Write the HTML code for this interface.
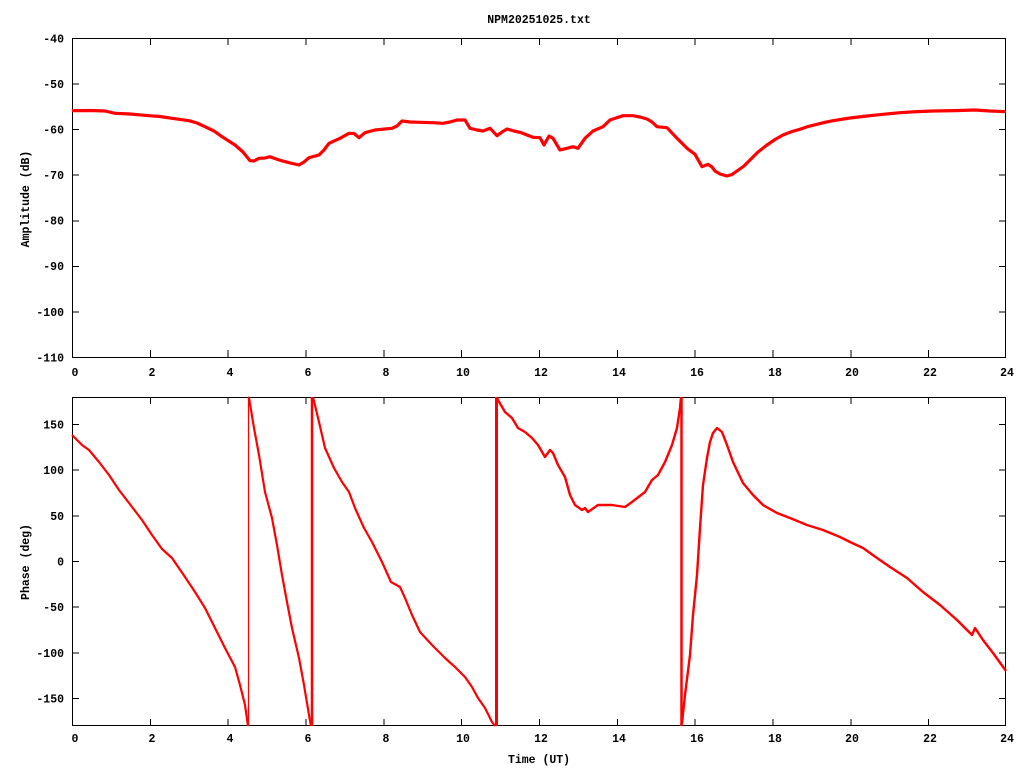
<!DOCTYPE html>
<html>
<head>
<meta charset="utf-8">
<style>
html,body{margin:0;padding:0;background:#fff;}
svg{display:block;}
text{font-family:"Liberation Mono","DejaVu Sans Mono",monospace;font-weight:bold;font-size:11.5px;fill:#000;}
</style>
</head>
<body>
<svg width="1024" height="768" viewBox="0 0 1024 768" xmlns="http://www.w3.org/2000/svg">
<rect x="0" y="0" width="1024" height="768" fill="#fff"/>

<!-- Title -->
<text x="539" y="23" text-anchor="middle">NPM20251025.txt</text>

<!-- ================= TOP PLOT ================= -->
<g stroke="#000" stroke-width="1" fill="none" shape-rendering="crispEdges">
  <rect x="72.5" y="38.5" width="933" height="319"/>
  <!-- y ticks left & right -->
  <path d="M72 38.5h7M1006 38.5h-7
           M72 84.1h7M1006 84.1h-7
           M72 129.6h7M1006 129.6h-7
           M72 175.2h7M1006 175.2h-7
           M72 220.8h7M1006 220.8h-7
           M72 266.4h7M1006 266.4h-7
           M72 311.9h7M1006 311.9h-7
           M72 357.5h7M1006 357.5h-7"/>
  <!-- x ticks bottom & top -->
  <path d="M72.5 357v-7M72.5 38v7
           M150.3 357v-7M150.3 38v7
           M228.2 357v-7M228.2 38v7
           M306 357v-7M306 38v7
           M383.8 357v-7M383.8 38v7
           M461.7 357v-7M461.7 38v7
           M539.5 357v-7M539.5 38v7
           M617.3 357v-7M617.3 38v7
           M695.2 357v-7M695.2 38v7
           M773 357v-7M773 38v7
           M850.8 357v-7M850.8 38v7
           M928.7 357v-7M928.7 38v7
           M1005.5 357v-7M1005.5 38v7"/>
</g>
<g text-anchor="end">
  <text x="64" y="42.5">-40</text>
  <text x="64" y="88">-50</text>
  <text x="64" y="133.5">-60</text>
  <text x="64" y="179">-70</text>
  <text x="64" y="224.5">-80</text>
  <text x="64" y="270">-90</text>
  <text x="64" y="316">-100</text>
  <text x="64" y="361.5">-110</text>
</g>
<g text-anchor="middle">
  <text x="75" y="376">0</text>
  <text x="152" y="376">2</text>
  <text x="230" y="376">4</text>
  <text x="308" y="376">6</text>
  <text x="386" y="376">8</text>
  <text x="463" y="376">10</text>
  <text x="541" y="376">12</text>
  <text x="619" y="376">14</text>
  <text x="697" y="376">16</text>
  <text x="775" y="376">18</text>
  <text x="852" y="376">20</text>
  <text x="930" y="376">22</text>
  <text x="1007" y="376">24</text>
</g>
<text transform="translate(29,199) rotate(-90)" text-anchor="middle">Amplitude (dB)</text>

<polyline fill="none" stroke="#ff0000" stroke-width="3.2" stroke-linejoin="round"
points="72,110.7 90,110.5 105,111 115,113.3 130,114 149,115.7 160,116.5 172,118.3 189,120.7 197,123 205,126.7 214,131 222,136.7 235,145 243,152 250,160.7 254,161 259,158.3 265,158 270,156.7 279,160 289,162.7 299,165 304,162 309,157.7 319,155 324,150 329,143.3 340,138.3 349,133.3 354,133.5 359,137.7 365,132.7 375,130 392,128.3 397,126 402,121 410,122 420,122.3 433,122.7 443,123.3 450,122 457,120 465,120 470,128.3 477,130 483,131 490,128.3 497,135.7 502,132 507,129 514,131 520,132.3 527,135 533,137.3 540,137.7 544,145 549,136 553,138.3 557,145 560,150 567,148.3 573,146.7 578,148.3 585,138.3 593,131 603,126.7 610,120 616,118 623,115.7 633,115.7 640,117 647,119 652,122 657,126.7 667,127.7 672,133 677,138.3 687,148.3 695,154.3 702,166.7 708,164.3 712,167 715,171 720,174 727,176 732,174.5 737,171 744,166 750,160 758,152 767,145 775,139.5 783,135 792,131.5 800,129.3 808,126.5 817,124.3 825,122.3 833,120.7 850,118 867,116 883,114.3 900,112.7 917,111.6 933,111 955,110.6 975,110 990,111 1006,111.7"/>

<!-- ================= BOTTOM PLOT ================= -->
<g stroke="#000" stroke-width="1" fill="none" shape-rendering="crispEdges">
  <rect x="72.5" y="397.5" width="933" height="328"/>
  <path d="M72 424.4h7M1006 424.4h-7
           M72 470.1h7M1006 470.1h-7
           M72 515.8h7M1006 515.8h-7
           M72 561.5h7M1006 561.5h-7
           M72 607.2h7M1006 607.2h-7
           M72 652.9h7M1006 652.9h-7
           M72 698.6h7M1006 698.6h-7"/>
  <path d="M72.5 726v-7M72.5 397v7
           M150.3 726v-7M150.3 397v7
           M228.2 726v-7M228.2 397v7
           M306 726v-7M306 397v7
           M383.8 726v-7M383.8 397v7
           M461.7 726v-7M461.7 397v7
           M539.5 726v-7M539.5 397v7
           M617.3 726v-7M617.3 397v7
           M695.2 726v-7M695.2 397v7
           M773 726v-7M773 397v7
           M850.8 726v-7M850.8 397v7
           M928.7 726v-7M928.7 397v7
           M1005.5 726v-7M1005.5 397v7"/>
</g>
<g text-anchor="end">
  <text x="64" y="428.5">150</text>
  <text x="64" y="474">100</text>
  <text x="64" y="520">50</text>
  <text x="64" y="565.5">0</text>
  <text x="64" y="611">-50</text>
  <text x="64" y="657">-100</text>
  <text x="64" y="702.5">-150</text>
</g>
<g text-anchor="middle">
  <text x="75" y="742">0</text>
  <text x="152" y="742">2</text>
  <text x="230" y="742">4</text>
  <text x="308" y="742">6</text>
  <text x="386" y="742">8</text>
  <text x="463" y="742">10</text>
  <text x="541" y="742">12</text>
  <text x="619" y="742">14</text>
  <text x="697" y="742">16</text>
  <text x="775" y="742">18</text>
  <text x="852" y="742">20</text>
  <text x="930" y="742">22</text>
  <text x="1007" y="742">24</text>
</g>
<text x="539" y="763" text-anchor="middle">Time (UT)</text>
<text transform="translate(29,562) rotate(-90)" text-anchor="middle">Phase (deg)</text>

<g fill="none" stroke="#ff0000" stroke-linejoin="round">
<polyline stroke-width="2.2" points="72,435 82,445 89,450 99,462 109,475 119,490 129,503 142,520 152,535 162,549 172,558 185,577 195,592 205,608 215,628 225,648 235,667 240,685 245,705 248,726"/>
<line x1="248.5" y1="726" x2="248.5" y2="397" stroke-width="1.2"/>
<polyline stroke-width="2.2" points="248,397 249,398 254,428 259,455 265,492 272,518 277,545 282,575 287,602 292,628 299,658 304,685 309,715 311,726"/>
<line x1="312" y1="726" x2="312" y2="397" stroke-width="2.5"/>
<polyline stroke-width="2.2" points="313,397 319,422 325,448 334,468 342,482 349,492 355,508 364,528 372,542 382,562 391,582 400,587 405,598 412,615 420,632 432,645 445,658 455,667 465,677 472,687 478,698 485,708 492,722 495,726"/>
<line x1="496.5" y1="726" x2="496.5" y2="397" stroke-width="3"/>
<polyline stroke-width="2.4" points="497,397 498,400 505,412 512,418 518,428 525,432 532,438 538,445 545,457 550,450 553,453 558,465 565,477 570,495 575,505 582,510 585,508 588,512 598,505 612,505 625,507 632,502 645,492 652,480 658,475 665,462 672,445 677,428 680,408 681,397"/>
<line x1="681.5" y1="726" x2="681.5" y2="397" stroke-width="2.5"/>
<polyline stroke-width="2.4" points="681,726 682,723 685,695 690,655 693,615 697,575 700,528 703,485 707,458 710,442 713,433 717,428 722,432 727,445 733,462 743,483 753,495 763,505 777,513 790,518 807,525 823,530 840,537 850,542 863,548 877,558 890,567 907,578 923,592 940,605 957,620 972,635 975,628 983,640 993,653 1006,671"/>
</g>
</svg>
</body>
</html>
